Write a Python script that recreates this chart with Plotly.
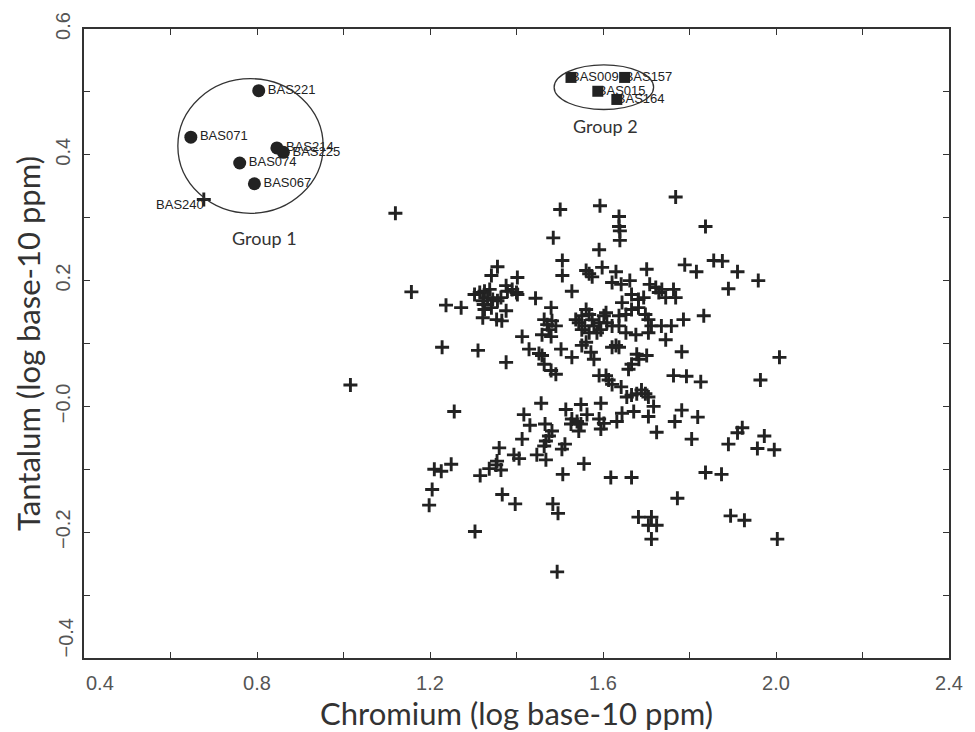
import plotly.graph_objects as go

# Chromium vs tantalum (log10 ppm) for the basalt samples
cr = [1.768, 1.501, 1.593, 1.637, 1.637, 1.639, 1.639, 1.485, 1.591, 1.506,
      1.506, 1.561, 1.568, 1.575, 1.598, 1.630, 1.621, 1.642, 1.662, 1.701,
      1.708, 1.722, 1.729, 1.736, 1.745, 1.763, 1.768, 1.666, 1.682, 1.694,
      1.528, 1.444, 1.356, 1.342, 1.402, 1.376, 1.390, 1.400, 1.379, 1.402,
      1.303, 1.315, 1.326, 1.338, 1.322, 1.324, 1.333, 1.345, 1.356, 1.364,
      1.237, 1.272, 1.326, 1.342, 1.322, 1.354, 1.366, 1.376, 1.480, 1.464,
      1.471, 1.482, 1.475, 1.491, 1.459, 1.480, 1.413, 1.429, 1.452, 1.459,
      1.503, 1.528, 1.551, 1.561, 1.572, 1.579, 1.537, 1.544, 1.551, 1.561,
      1.568, 1.575, 1.579, 1.591, 1.595, 1.602, 1.609, 1.586, 1.568, 1.551,
      1.558, 1.607, 1.637, 1.653, 1.621, 1.637, 1.644, 1.666, 1.682, 1.698,
      1.705, 1.712, 1.735, 1.758, 1.653, 1.676, 1.705, 1.745, 1.630, 1.637,
      1.621, 1.678, 1.701, 1.683, 1.666, 1.659, 1.228, 1.311, 1.376, 1.464,
      1.480, 1.491, 1.591, 1.607, 1.763, 1.613, 1.621, 1.642, 1.655, 1.666,
      1.678, 1.689, 1.698, 1.705, 1.717, 1.457, 1.514, 1.549, 1.595, 1.563,
      1.417, 1.431, 1.466, 1.482, 1.475, 1.468, 1.464, 1.528, 1.540, 1.549,
      1.544, 1.526, 1.591, 1.602, 1.595, 1.632, 1.644, 1.671, 1.705, 1.724,
      1.766, 1.256, 1.413, 1.512, 1.505, 1.360, 1.447, 1.468, 1.394, 1.406,
      1.355, 1.337, 1.364, 1.353, 1.316, 1.210, 1.226, 1.249, 1.205, 1.198,
      1.507, 1.556, 1.618, 1.666, 1.367, 1.397, 1.484, 1.496, 1.772, 1.682,
      1.712, 1.705, 1.724, 1.712, 1.304, 1.494, 1.837, 1.789, 1.816, 1.856,
      1.876, 1.911, 1.959, 1.890, 1.833, 1.786, 1.782, 2.008, 1.793, 1.826,
      1.964, 1.782, 1.819, 1.805, 1.890, 1.911, 1.922, 1.973, 1.957, 1.996,
      1.837, 1.874, 1.895, 1.927, 2.003, 1.016, 1.120, 1.157, 0.677]
ta = [0.333, 0.313, 0.319, 0.302, 0.286, 0.279, 0.264, 0.268, 0.249, 0.232,
      0.208, 0.216, 0.211, 0.206, 0.221, 0.214, 0.197, 0.194, 0.200, 0.218,
      0.194, 0.189, 0.181, 0.186, 0.173, 0.186, 0.173, 0.178, 0.170, 0.173,
      0.183, 0.172, 0.222, 0.208, 0.205, 0.192, 0.186, 0.181, 0.183, 0.178,
      0.178, 0.181, 0.183, 0.186, 0.168, 0.162, 0.173, 0.170, 0.168, 0.173,
      0.161, 0.157, 0.154, 0.157, 0.141, 0.138, 0.136, 0.152, 0.157, 0.138,
      0.130, 0.136, 0.122, 0.128, 0.114, 0.111, 0.111, 0.091, 0.084, 0.081,
      0.091, 0.078, 0.097, 0.102, 0.086, 0.075, 0.138, 0.133, 0.144, 0.154,
      0.146, 0.138, 0.128, 0.133, 0.122, 0.144, 0.133, 0.117, 0.117, 0.122,
      0.128, 0.149, 0.144, 0.146, 0.128, 0.128, 0.165, 0.154, 0.157, 0.146,
      0.138, 0.128, 0.128, 0.128, 0.117, 0.114, 0.117, 0.106, 0.097, 0.094,
      0.094, 0.083, 0.081, 0.075, 0.067, 0.059, 0.094, 0.089, 0.070, 0.067,
      0.057, 0.051, 0.049, 0.049, 0.049, 0.042, 0.035, 0.031, 0.015, 0.018,
      0.020, 0.026, 0.020, 0.015, 0.000, 0.005, -0.005, 0.003, 0.005, -0.013,
      -0.013, -0.030, -0.028, -0.039, -0.047, -0.055, -0.063, -0.020, -0.024, -0.028,
      -0.039, -0.028, -0.020, -0.027, -0.036, -0.024, -0.011, -0.008, -0.016, -0.041,
      -0.024, -0.008, -0.052, -0.060, -0.068, -0.066, -0.077, -0.085, -0.077, -0.083,
      -0.087, -0.099, -0.101, -0.093, -0.110, -0.100, -0.103, -0.092, -0.132, -0.157,
      -0.108, -0.091, -0.113, -0.113, -0.140, -0.155, -0.155, -0.170, -0.146, -0.176,
      -0.176, -0.189, -0.189, -0.211, -0.199, -0.263, 0.286, 0.225, 0.214, 0.232,
      0.231, 0.214, 0.200, 0.187, 0.144, 0.138, 0.087, 0.078, 0.048, 0.039,
      0.042, -0.006, -0.017, -0.052, -0.060, -0.042, -0.034, -0.047, -0.067, -0.069,
      -0.105, -0.108, -0.174, -0.181, -0.211, 0.034, 0.307, 0.182, 0.329]

# Labelled outlier: the last entry of cr/ta above
outlier_name = ["BAS240"]
outlier_cr = [0.677]
outlier_ta = [0.329]

group1_names = ["BAS221", "BAS071", "BAS214", "BAS225", "BAS074", "BAS067"]
group1_cr = [0.804, 0.647, 0.846, 0.861, 0.760, 0.794]
group1_ta = [0.502, 0.428, 0.411, 0.404, 0.387, 0.354]

group2_names = ["BAS009", "BAS157", "BAS015", "BAS164"]
group2_cr = [1.526, 1.650, 1.588, 1.632]
group2_ta = [0.523, 0.523, 0.501, 0.488]

# Ellipse bounds (x0, x1, y0, y1) around each group
group1_box = [0.617, 0.953, 0.307, 0.521]
group2_box = [1.487, 1.717, 0.472, 0.543]

ink = "#222222"
label_font = dict(family="Liberation Sans, Arial", size=13, color=ink)

fig = go.Figure()

fig.add_trace(go.Scatter(
    x=cr, y=ta, mode="markers",
    marker=dict(symbol="cross-thin", size=10, line=dict(width=2.9, color=ink)),
    hoverinfo="skip", showlegend=False))

fig.add_trace(go.Scatter(
    x=outlier_cr, y=outlier_ta, mode="text", text=outlier_name,
    textposition="bottom left", textfont=label_font,
    hoverinfo="skip", showlegend=False))

fig.add_trace(go.Scatter(
    x=group1_cr, y=group1_ta, mode="markers+text", text=group1_names,
    textposition="middle right", textfont=label_font,
    marker=dict(symbol="circle", size=13, color=ink),
    hoverinfo="skip", showlegend=False))

fig.add_trace(go.Scatter(
    x=group2_cr, y=group2_ta, mode="text", text=group2_names,
    textposition="middle right", textfont=label_font,
    hoverinfo="skip", showlegend=False))
fig.add_trace(go.Scatter(
    x=group2_cr, y=group2_ta, mode="markers",
    marker=dict(symbol="square", size=11, color=ink),
    hoverinfo="skip", showlegend=False))

for box in (group1_box, group2_box):
    fig.add_shape(type="circle", xref="x", yref="y",
                  x0=box[0], x1=box[1], y0=box[2], y1=box[3],
                  line=dict(color="#333333", width=1.3))

group_font = dict(family="Lato, Open Sans", size=18, color="#333333")
fig.add_annotation(x=0.818, y=0.267, text="Group 1", showarrow=False, font=group_font)
fig.add_annotation(x=1.606, y=0.445, text="Group 2", showarrow=False, font=group_font)

x_ticks = [0.4, 0.6, 0.8, 1.0, 1.2, 1.4, 1.6, 1.8, 2.0, 2.2, 2.4]
x_ticktext = ["", "", "0.8", "", "1.2", "", "1.6", "", "2.0", "", "2.4"]
y_ticks = [-0.4, -0.3, -0.2, -0.1, 0.0, 0.1, 0.2, 0.3, 0.4, 0.5, 0.6]
y_ticktext = ["", "", "\u22120.2", "", "\u22120.0", "", "0.2", "", "0.4", "", "0.6"]

tick_font = dict(family="Liberation Sans, Arial", size=20, color="#555555")
title_font = dict(family="Lato, Open Sans", size=31, color="#333333")

# Corner tick labels, nudged inward off the axis corner
fig.add_annotation(x=0.4, y=0, xref="x", yref="paper", text="0.4",
                   showarrow=False, font=tick_font, xanchor="left",
                   yanchor="top", xshift=0, yshift=-12)
fig.add_annotation(x=0, y=-0.4, xref="paper", yref="y", text="\u22120.4",
                   showarrow=False, font=tick_font, textangle=-90,
                   xanchor="right", yanchor="bottom", xshift=-6, yshift=-2)

fig.update_xaxes(
    range=[0.4, 2.4], tickvals=x_ticks, ticktext=x_ticktext,
    ticks="inside", ticklen=6, tickwidth=1.2, tickcolor="#333333",
    showline=True, linewidth=2, linecolor="#333333", mirror="ticks",
    showgrid=False, zeroline=False, tickfont=tick_font, ticklabelstandoff=6,
    title=dict(text="Chromium (log base-10 ppm)", font=title_font, standoff=0))
fig.update_yaxes(
    range=[-0.4, 0.6], tickvals=y_ticks, ticktext=y_ticktext, tickangle=-90,
    ticks="inside", ticklen=6, tickwidth=1.2, tickcolor="#333333",
    showline=True, linewidth=2, linecolor="#333333", mirror="ticks",
    showgrid=False, zeroline=False, tickfont=tick_font, ticklabelstandoff=4,
    title=dict(text="Tantalum (log base-10 ppm)", font=title_font, standoff=2))

fig.update_layout(
    width=975, height=732,
    margin=dict(l=84, r=24, t=24, b=74),
    paper_bgcolor="white", plot_bgcolor="white",
    showlegend=False)

fig.write_html("out.html")
